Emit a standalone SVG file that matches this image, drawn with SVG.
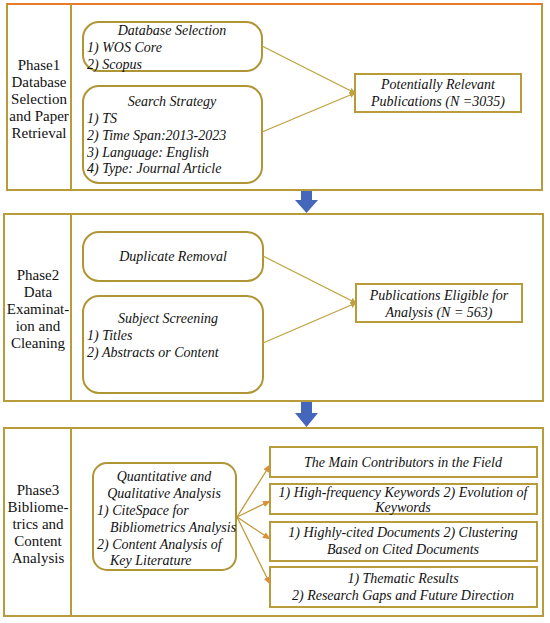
<svg xmlns="http://www.w3.org/2000/svg" width="550" height="623" viewBox="0 0 550 623">
<defs>
<style>
.frame{fill:#fff;stroke:#B89B3A;stroke-width:2}
.rnd{fill:#fff;stroke:#B09535;stroke-width:2}
.box{fill:#fff;stroke:#B89B3A;stroke-width:2}
.con{stroke:#C0A040;stroke-width:1.3;fill:none}
.con3{stroke:#C09A3C;stroke-width:1.3;fill:none}
text{font-family:'Liberation Serif','Times New Roman','DejaVu Serif',serif;fill:#111}
.ph{font-size:15px;text-anchor:middle}
.t{font-size:14px;font-style:italic}
.c{text-anchor:middle}
.blue{fill:#4466BB}
</style>
<marker id="ah" viewBox="0 0 10 10" refX="9" refY="5" markerWidth="6" markerHeight="6" orient="auto" markerUnits="userSpaceOnUse">
<path d="M0,0 L10,5 L0,10 z" fill="#C0A040"/>
</marker>
<marker id="ah3" viewBox="0 0 10 10" refX="9" refY="5" markerWidth="8" markerHeight="8" orient="auto" markerUnits="userSpaceOnUse">
<path d="M0,1 L10,5 L0,9 z" fill="#D9903A"/>
</marker>
</defs>

<g id="phase1">
<rect class="frame" x="7" y="4" width="535" height="186"/>
<line x1="7" y1="4" x2="542" y2="4" stroke="#E87A2A" stroke-width="2"/>
<line x1="71" y1="4" x2="71" y2="190" stroke="#B89B3A" stroke-width="2"/>
<text class="ph"><tspan x="39" y="70">Phase1</tspan><tspan x="39" y="87">Database</tspan><tspan x="39" y="104">Selection</tspan><tspan x="39" y="121">and Paper</tspan><tspan x="39" y="138">Retrieval</tspan></text>
</g>
<g id="db-selection">
<rect class="rnd" x="83" y="22" width="179" height="49" rx="16"/>
<text class="t c" x="172" y="35">Database Selection</text>
<text class="t" x="87" y="52">1) WOS Core</text>
<text class="t" x="87" y="69">2) Scopus</text>
</g>
<g id="search-strategy">
<rect class="rnd" x="83" y="86" width="179" height="97" rx="16"/>
<text class="t c" x="172" y="106">Search Strategy</text>
<text class="t" x="87" y="123">1) TS</text>
<text class="t" x="87" y="140">2) Time Span:2013-2023</text>
<text class="t" x="87" y="157">3) Language: English</text>
<text class="t" x="87" y="173">4) Type: Journal Article</text>
</g>
<g id="potentially-relevant">
<rect class="box" x="355" y="74" width="166" height="38"/>
<text class="t c" x="438" y="89">Potentially Relevant</text>
<text class="t c" x="438" y="106">Publications (N =3035)</text>
</g>

<g id="phase2">
<rect class="frame" x="4" y="214" width="539" height="187"/>
<line x1="71" y1="214" x2="71" y2="401" stroke="#B89B3A" stroke-width="2"/>
<text class="ph"><tspan x="38" y="280">Phase2</tspan><tspan x="38" y="297">Data</tspan><tspan x="38" y="314">Examinat-</tspan><tspan x="38" y="331">ion and</tspan><tspan x="38" y="348">Cleaning</tspan></text>
</g>
<g id="duplicate-removal">
<rect class="rnd" x="83" y="232" width="180" height="49" rx="16"/>
<text class="t c" x="173" y="261">Duplicate Removal</text>
</g>
<g id="subject-screening">
<rect class="rnd" x="83" y="296" width="180" height="97" rx="16"/>
<text class="t c" x="168" y="323">Subject Screening</text>
<text class="t" x="87" y="340">1) Titles</text>
<text class="t" x="87" y="357">2) Abstracts or Content</text>
</g>
<g id="eligible">
<rect class="box" x="356" y="284" width="166" height="38"/>
<text class="t c" x="439" y="300">Publications Eligible for</text>
<text class="t c" x="439" y="317">Analysis (N = 563)</text>
</g>

<g id="phase3">
<rect class="frame" x="4" y="428" width="539" height="188"/>
<line x1="71" y1="428" x2="71" y2="616" stroke="#B89B3A" stroke-width="2"/>
<text class="ph"><tspan x="38" y="495">Phase3</tspan><tspan x="38" y="512">Bibliome-</tspan><tspan x="38" y="529">trics and</tspan><tspan x="38" y="546">Content</tspan><tspan x="38" y="563">Analysis</tspan></text>
</g>
<g id="quant-qual">
<rect class="rnd" x="93" y="463" width="143" height="107" rx="14"/>
<text class="t c" x="164" y="481">Quantitative and</text>
<text class="t c" x="164" y="498">Qualitative Analysis</text>
<text class="t" x="97" y="515">1) CiteSpace for</text>
<text class="t" x="110" y="532">Bibliometrics Analysis</text>
<text class="t" x="97" y="549">2) Content Analysis  of</text>
<text class="t" x="110" y="565">Key Literature</text>
</g>
<g id="contributors">
<rect class="box" x="270" y="447" width="267" height="30"/>
<text class="t c" x="403" y="467">The Main Contributors in the Field</text>
</g>
<g id="keywords">
<rect class="box" x="270" y="484" width="267" height="30"/>
<text class="t c" x="403" y="497">1) High-frequency Keywords 2) Evolution of</text>
<text class="t c" x="403" y="512">Keywords</text>
</g>
<g id="documents">
<rect class="box" x="270" y="522" width="267" height="39"/>
<text class="t c" x="403" y="537">1) Highly-cited Documents 2) Clustering</text>
<text class="t c" x="403" y="554">Based on Cited Documents</text>
</g>
<g id="thematic">
<rect class="box" x="270" y="567" width="267" height="40"/>
<text class="t c" x="403" y="583">1) Thematic Results</text>
<text class="t c" x="403" y="600">2) Research Gaps and Future Direction</text>
</g>

<g id="connectors">
<line class="con" x1="262" y1="46" x2="355" y2="93" marker-end="url(#ah)"/>
<line class="con" x1="262" y1="132" x2="355" y2="93" marker-end="url(#ah)"/>
<line class="con" x1="263" y1="256" x2="356" y2="303" marker-end="url(#ah)"/>
<line class="con" x1="263" y1="343" x2="356" y2="303" marker-end="url(#ah)"/>
<line class="con3" x1="237" y1="517" x2="270" y2="465" marker-end="url(#ah3)"/>
<line class="con3" x1="237" y1="517" x2="270" y2="501" marker-end="url(#ah3)"/>
<line class="con3" x1="237" y1="517" x2="270" y2="539" marker-end="url(#ah3)"/>
<line class="con3" x1="237" y1="517" x2="270" y2="584" marker-end="url(#ah3)"/>
<path class="blue" d="M301,191 H312 V200 H318 L306.5,213 L295,200 H301 Z"/>
<path class="blue" d="M301,402 H312 V413 H318 L306.5,427 L295,413 H301 Z"/>
</g>
</svg>
